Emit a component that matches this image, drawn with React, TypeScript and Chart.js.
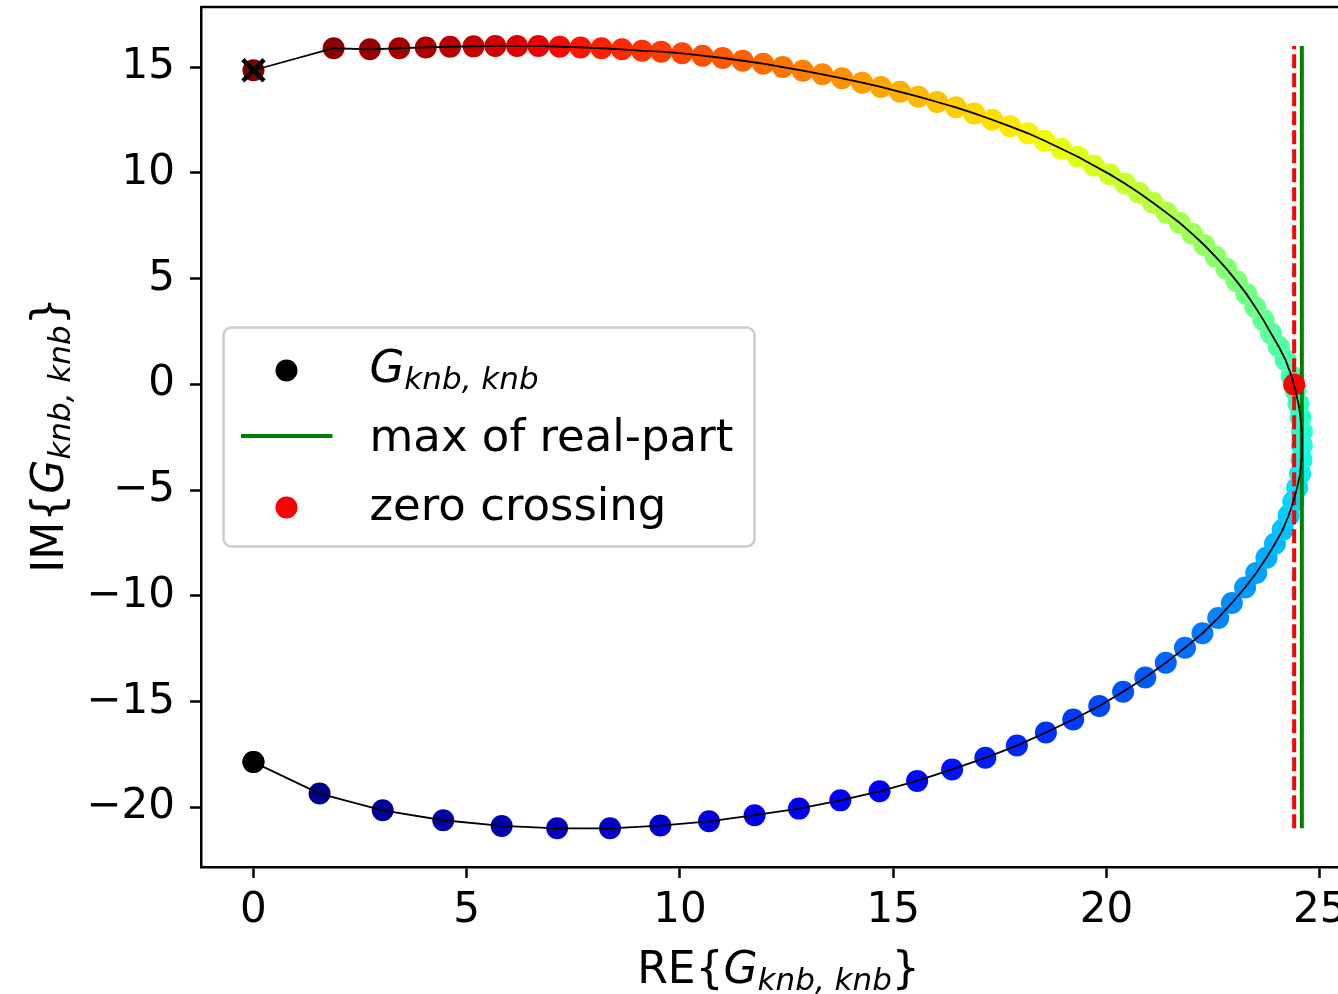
import React, { useEffect, useRef } from "react";
import { Chart, registerables } from "chart.js";

Chart.register(...registerables);

// Frequency sweep of G_knb,knb (real / imaginary parts), ordered from first to last sample
const reG: number[] = [
  0.0, 1.55, 3.03, 4.45, 5.82, 7.12, 8.36, 9.54, 10.68, 11.75,
  12.79, 13.76, 14.68, 15.56, 16.38, 17.16, 17.9, 18.58, 19.22, 19.83,
  20.39, 20.91, 21.39, 21.84, 22.25, 22.62, 22.94, 23.25, 23.51, 23.75,
  23.95, 24.13, 24.27, 24.38, 24.47, 24.54, 24.57, 24.58, 24.58, 24.55,
  24.5, 24.43, 24.34, 24.2, 24.04, 23.86, 23.68, 23.49, 23.28, 23.05,
  22.81, 22.56, 22.29, 22.01, 21.72, 21.41, 21.09, 20.76, 20.43, 20.07,
  19.7, 19.33, 18.94, 18.55, 18.16, 17.74, 17.32, 16.9, 16.47, 16.03,
  15.59, 15.16, 14.71, 14.27, 13.8, 13.34, 12.88, 12.41, 11.95, 11.47,
  11.0, 10.53, 10.05, 9.56, 9.11, 8.64, 8.16, 7.67, 7.18, 6.68,
  6.18, 5.67, 5.16, 4.61, 4.04, 3.42, 2.73, 1.88, 0.0,
];
const imG: number[] = [
  -17.85, -19.34, -20.13, -20.6, -20.87, -20.98, -20.98, -20.85, -20.65, -20.36,
  -20.05, -19.66, -19.23, -18.74, -18.2, -17.65, -17.07, -16.45, -15.84, -15.2,
  -14.53, -13.85, -13.16, -12.45, -11.76, -11.04, -10.33, -9.6, -8.91, -8.19,
  -7.53, -6.87, -6.2, -5.54, -4.88, -4.22, -3.56, -2.89, -2.23, -1.57,
  -0.91, -0.27, 0.39, 1.15, 1.78, 2.41, 3.04, 3.65, 4.28, 4.88,
  5.47, 6.03, 6.59, 7.12, 7.63, 8.11, 8.59, 9.06, 9.5, 9.94,
  10.35, 10.76, 11.14, 11.52, 11.87, 12.2, 12.51, 12.81, 13.1, 13.35,
  13.6, 13.83, 14.06, 14.26, 14.47, 14.66, 14.83, 15.0, 15.16, 15.3,
  15.43, 15.54, 15.65, 15.73, 15.77, 15.84, 15.89, 15.93, 15.96, 16.0,
  16.0, 16.0, 15.98, 15.96, 15.93, 15.89, 15.84, 15.89, 14.85,
];

const zeroCrossingRe = 24.4;
const zeroCrossingIm = 0;
const maxRealPart = 24.58;

const xTickValues: number[] = [0, 5, 10, 15, 20, 25];
const yTickValues: number[] = [-20, -15, -10, -5, 0, 5, 10, 15];
const xRange: number[] = [-1.23, 25.85];
const yRange: number[] = [-22.81, 17.84];

const legendLabels: string[] = ["max of real-part", "zero crossing"];

const FONT = '"DejaVu Sans", "Liberation Sans", sans-serif';

function interp(pts: number[][], t: number): number {
  for (let i = 0; i < pts.length - 1; i++) {
    const [x0, y0] = pts[i];
    const [x1, y1] = pts[i + 1];
    if (t >= x0 && t <= x1) return y0 + ((t - x0) / (x1 - x0)) * (y1 - y0);
  }
  return pts[pts.length - 1][1];
}

function jet(t: number): string {
  const r = interp([[0, 0], [0.35, 0], [0.66, 1], [0.89, 1], [1, 0.5]], t);
  const g = interp([[0, 0], [0.125, 0], [0.375, 1], [0.64, 1], [0.91, 0], [1, 0]], t);
  const b = interp([[0, 0.5], [0.11, 1], [0.34, 1], [0.65, 0], [1, 0]], t);
  return `rgb(${Math.round(r * 255)},${Math.round(g * 255)},${Math.round(b * 255)})`;
}

function fmt(v: number): string {
  return v < 0 ? "\u2212" + Math.abs(v) : String(v);
}

function drawMathLabel(ctx: CanvasRenderingContext2D, prefix: string, cx: number, cy: number, rotate: boolean) {
  const big = 44;
  const sub = 31;
  const parts = [
    { t: prefix + "{", font: `${big}px ${FONT}`, dy: 0 },
    { t: "G", font: `italic ${big}px ${FONT}`, dy: 0 },
    { t: "knb, knb", font: `italic ${sub}px ${FONT}`, dy: 7 },
    { t: "}", font: `${big}px ${FONT}`, dy: 0 },
  ];
  ctx.save();
  let total = 0;
  const widths = parts.map((p) => {
    ctx.font = p.font;
    const w = ctx.measureText(p.t).width;
    total += w;
    return w;
  });
  ctx.translate(cx, cy);
  if (rotate) ctx.rotate(-Math.PI / 2);
  ctx.fillStyle = "#000";
  ctx.textAlign = "left";
  ctx.textBaseline = "alphabetic";
  let x = -total / 2;
  parts.forEach((p, i) => {
    ctx.font = p.font;
    ctx.fillText(p.t, x, p.dy);
    x += widths[i];
  });
  ctx.restore();
}

export default function App() {
  const ref = useRef<HTMLCanvasElement>(null);

  useEffect(() => {
    const canvas = ref.current;
    if (!canvas) return;
    const n = reG.length;
    const sweep = reG.map((x, i) => ({ x, y: imG[i] }));
    const colors = reG.map((_, i) => jet(i / (n - 1)));
    const imMin = Math.min(...imG);
    const imMax = Math.max(...imG);

    const decorations = {
      id: "decorations",
      afterDraw(chart: any) {
        const ctx: CanvasRenderingContext2D = chart.ctx;
        const a = chart.chartArea;
        ctx.save();
        // remaining spines
        ctx.strokeStyle = "#000";
        ctx.lineWidth = 2.5;
        ctx.beginPath();
        ctx.moveTo(a.left, a.top);
        ctx.lineTo(a.right, a.top);
        ctx.lineTo(a.right, a.bottom);
        ctx.stroke();

        // legend box
        const bx = 223.5, by = 327.5, bw = 531, bh = 219, r = 8;
        ctx.beginPath();
        ctx.moveTo(bx + r, by);
        ctx.lineTo(bx + bw - r, by);
        ctx.arcTo(bx + bw, by, bx + bw, by + r, r);
        ctx.lineTo(bx + bw, by + bh - r);
        ctx.arcTo(bx + bw, by + bh, bx + bw - r, by + bh, r);
        ctx.lineTo(bx + r, by + bh);
        ctx.arcTo(bx, by + bh, bx, by + bh - r, r);
        ctx.lineTo(bx, by + r);
        ctx.arcTo(bx, by, bx + r, by, r);
        ctx.closePath();
        ctx.fillStyle = "rgba(255,255,255,0.8)";
        ctx.fill();
        ctx.strokeStyle = "#cccccc";
        ctx.lineWidth = 2.5;
        ctx.stroke();

        const textX = 369.5;
        // entry 1: black dot + G_knb,knb
        ctx.fillStyle = "#000";
        ctx.beginPath();
        ctx.arc(286.5, 370.5, 11, 0, Math.PI * 2);
        ctx.fill();
        ctx.textAlign = "left";
        ctx.textBaseline = "alphabetic";
        ctx.font = `italic 45px ${FONT}`;
        ctx.fillText("G", textX, 382);
        const gw = ctx.measureText("G").width;
        ctx.font = `italic 31px ${FONT}`;
        ctx.fillText("knb, knb", textX + gw, 389);

        // entry 2: green line
        ctx.strokeStyle = "#008000";
        ctx.lineWidth = 4;
        ctx.beginPath();
        ctx.moveTo(241, 436);
        ctx.lineTo(332.5, 436);
        ctx.stroke();
        ctx.fillStyle = "#000";
        ctx.font = `45px ${FONT}`;
        ctx.fillText(legendLabels[0], textX, 451);

        // entry 3: red dot
        ctx.fillStyle = "#ff0000";
        ctx.beginPath();
        ctx.arc(286.5, 507.5, 11, 0, Math.PI * 2);
        ctx.fill();
        ctx.fillStyle = "#000";
        ctx.fillText(legendLabels[1], textX, 520);
        ctx.restore();

        // axis labels
        drawMathLabel(ctx, "RE", (a.left + a.right) / 2, 983, false);
        drawMathLabel(ctx, "IM", 63, (a.top + a.bottom) / 2 - 2, true);
      },
    };

    const tickFont = { family: FONT, size: 42 };

    const chart = new Chart(canvas, {
      type: "scatter",
      data: {
        datasets: [
          {
            label: "end",
            data: [sweep[n - 1]],
            pointStyle: "crossRot",
            pointRadius: 15,
            borderColor: "#000",
            backgroundColor: "#000",
            borderWidth: 4.5,
            order: 0,
          },
          {
            label: "start",
            data: [sweep[0]],
            pointRadius: 11,
            backgroundColor: "#000",
            borderWidth: 0,
            order: 1,
          },
          {
            label: "curve",
            data: sweep,
            showLine: true,
            borderColor: "#000",
            borderWidth: 1.8,
            pointRadius: 0,
            order: 2,
          },
          {
            label: "zero crossing",
            data: [{ x: zeroCrossingRe, y: zeroCrossingIm }],
            pointRadius: 11,
            backgroundColor: "#ff0000",
            borderWidth: 0,
            order: 3,
          },
          {
            label: "max of real-part",
            data: [
              { x: maxRealPart, y: imMin },
              { x: maxRealPart, y: imMax },
            ],
            showLine: true,
            borderColor: "#008000",
            borderWidth: 4,
            pointRadius: 0,
            order: 4,
          },
          {
            label: "zero line",
            data: [
              { x: zeroCrossingRe, y: imMin },
              { x: zeroCrossingRe, y: imMax },
            ],
            showLine: true,
            borderColor: "#ff0000",
            borderDash: [14, 5],
            borderWidth: 4,
            pointRadius: 0,
            order: 5,
          },
          {
            label: "sweep",
            data: sweep,
            pointRadius: 11,
            pointBackgroundColor: colors,
            backgroundColor: colors,
            pointBorderWidth: 0,
            borderWidth: 0,
            order: 6,
          },
        ] as any,
      },
      options: {
        animation: false,
        responsive: false,
        devicePixelRatio: 1,
        events: [],
        layout: { autoPadding: false, padding: { top: 7, right: 44, left: 0, bottom: 0 } },
        plugins: { legend: { display: false }, tooltip: { enabled: false } },
        scales: {
          x: {
            type: "linear",
            min: xRange[0],
            max: xRange[1],
            afterBuildTicks: (s: any) => {
              s.ticks = xTickValues.map((v) => ({ value: v }));
            },
            afterFit: (s: any) => {
              s.height = 127;
              s.paddingLeft = 0;
              s.paddingRight = 0;
            },
            grid: {
              display: true,
              drawOnChartArea: false,
              drawTicks: true,
              tickLength: 11,
              tickWidth: 2.5,
              tickColor: "#000",
            },
            border: { display: true, color: "#000", width: 2.5 },
            ticks: {
              color: "#000",
              font: tickFont,
              padding: 8,
              maxRotation: 0,
              autoSkip: false,
              callback: (v: any) => fmt(Number(v)),
            },
          },
          y: {
            type: "linear",
            min: yRange[0],
            max: yRange[1],
            afterBuildTicks: (s: any) => {
              s.ticks = yTickValues.map((v) => ({ value: v }));
            },
            afterFit: (s: any) => {
              s.width = 201;
              s.paddingTop = 0;
              s.paddingBottom = 0;
            },
            grid: {
              display: true,
              drawOnChartArea: false,
              drawTicks: true,
              tickLength: 11,
              tickWidth: 2.5,
              tickColor: "#000",
            },
            border: { display: true, color: "#000", width: 2.5 },
            ticks: {
              color: "#000",
              font: tickFont,
              padding: 15,
              autoSkip: false,
              callback: (v: any) => fmt(Number(v)),
            },
          },
        },
      } as any,
      plugins: [decorations],
    });
    return () => chart.destroy();
  }, []);

  return (
    <div
      style={{
        position: "absolute",
        left: 0,
        top: 0,
        width: 1338,
        height: 994,
        overflow: "hidden",
        background: "#fff",
      }}
    >
      <canvas ref={ref} width={1400} height={994} style={{ display: "block" }} />
    </div>
  );
}
